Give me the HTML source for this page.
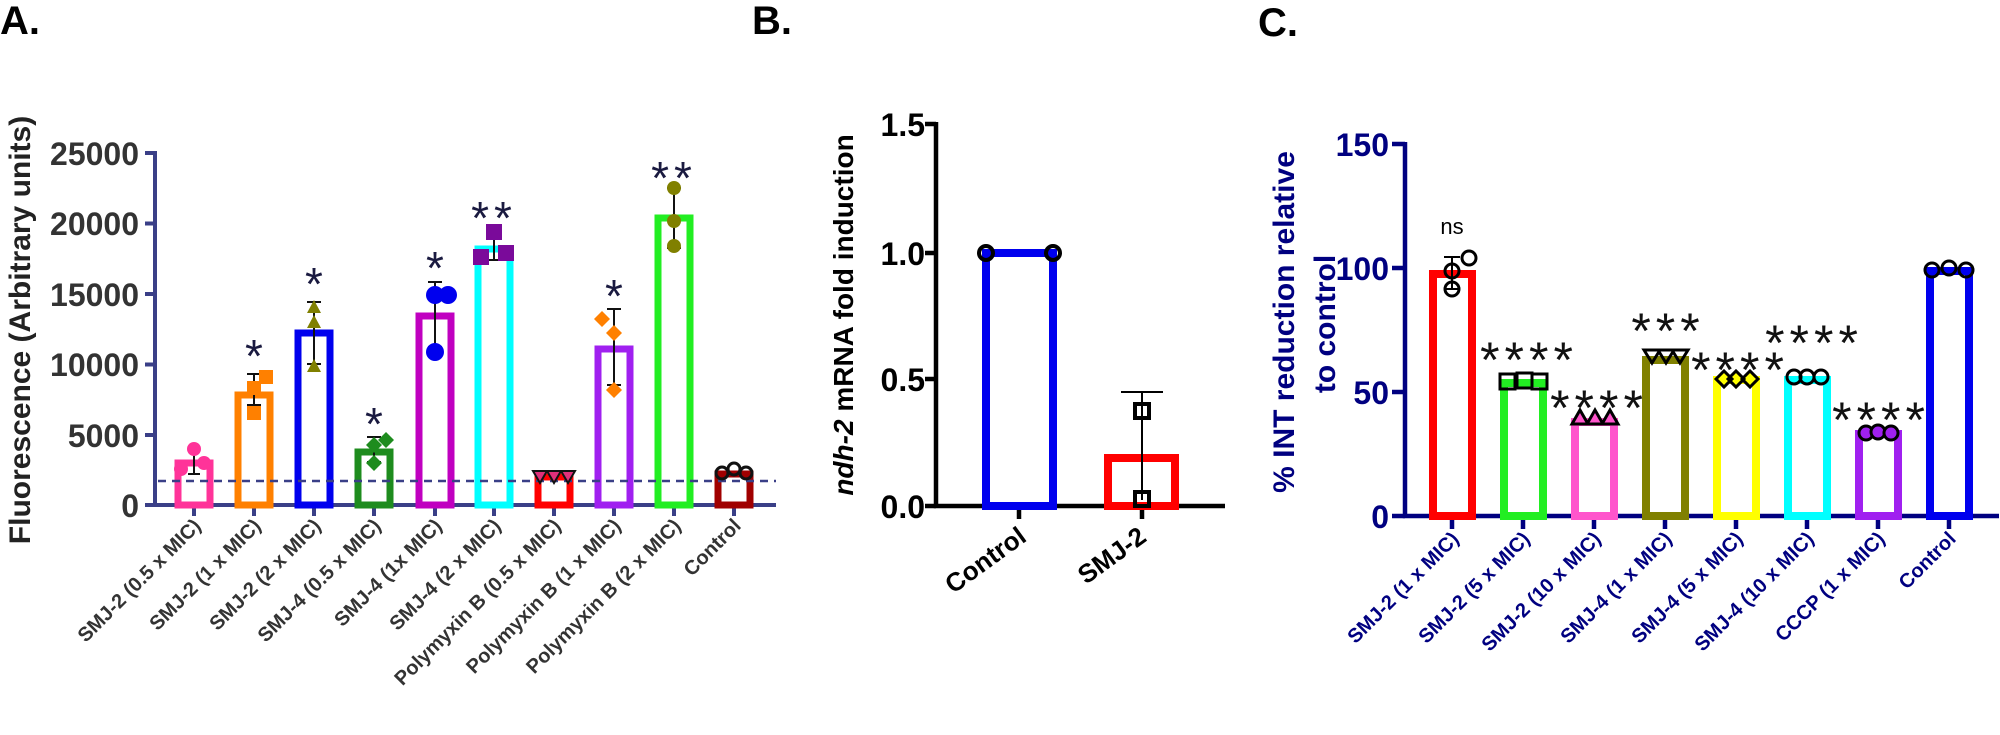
<!DOCTYPE html><html><head><style>body{margin:0;background:#fff}svg{display:block}text{font-family:"Liberation Sans",Arial,sans-serif;font-weight:bold}text.st{font-weight:normal}</style></head><body>
<svg width="2000" height="735" viewBox="0 0 2000 735">
<!-- Panel A -->
<text x="0" y="34" font-size="40">A.</text>
<g stroke="#3a3f87" stroke-width="4" fill="none"><path d="M155 151V505H776"/>
<path d="M145 153H155M145 223.5H155M145 294H155M145 364.5H155M145 435H155M145 505H155"/>
<path d="M194 505V516M254 505V516M314 505V516M374 505V516M435 505V516M494 505V516M554 505V516M614 505V516M674 505V516M734 505V516"/></g>
<g font-size="32" fill="#333" text-anchor="end"><text x="139" y="165">25000</text><text x="139" y="235">20000</text><text x="139" y="306">15000</text><text x="139" y="376">10000</text><text x="139" y="447">5000</text><text x="139" y="517">0</text></g>
<text transform="translate(30,330) rotate(-90)" font-size="30" fill="#222" text-anchor="middle">Fluorescence (Arbitrary units)</text>
<g fill="none" stroke-width="7">
<rect x="178" y="463" width="32" height="42" stroke="#ff3399"/>
<rect x="238" y="395" width="32" height="110" stroke="#ff8000"/>
<rect x="298" y="333" width="32" height="172" stroke="#0000ee"/>
<rect x="358" y="452" width="32" height="53" stroke="#1e8c1e"/>
<rect x="419" y="316" width="32" height="189" stroke="#c000c0"/>
<rect x="478" y="249" width="32" height="256" stroke="#00ffff"/>
<rect x="538" y="477" width="32" height="28" stroke="#ff0000"/>
<rect x="598" y="349" width="32" height="156" stroke="#a020f0"/>
<rect x="658" y="218" width="32" height="287" stroke="#22ee22"/>
<rect x="718" y="474" width="32" height="31" stroke="#a00000"/>
</g>
<line x1="158" y1="481" x2="776" y2="481" stroke="#3a3f87" stroke-width="2.5" stroke-dasharray="8,6"/>
<g stroke="#111" stroke-width="2">
<path d="M194 450V474M188 450H200M188 474H200 M254 374V405M247 374H261M247 405H261 M314 302V364M307 302H321M307 364H321 M374 437V462M367 437H381M367 462H381 M435 282V347M428 282H442M428 347H442 M494 233V260M487 233H501M487 260H501 M614 309V385M607 309H621M607 385H621 M674 188V248M667 188H681M667 248H681"/></g>
<g fill="#ff3399"><circle cx="194" cy="449" r="7"/><circle cx="181" cy="469" r="7"/><circle cx="204" cy="463" r="7"/></g>
<g fill="#ff8000"><rect x="247" y="406" width="14" height="14"/><rect x="247" y="381" width="14" height="14"/><rect x="259" y="370" width="14" height="14"/></g>
<g fill="#808000"><path d="M314 300l7 13h-14z M314 315l7 13h-14z M314 359l7 13h-14z"/></g>
<g fill="#1e8c1e"><path d="M374 437l8 8-8 8-8-8z M386 432l8 8-8 8-8-8z M374 455l8 8-8 8-8-8z"/></g>
<g fill="#0000ee"><circle cx="435" cy="295" r="9"/><circle cx="448" cy="295" r="9"/><circle cx="435" cy="352" r="9"/></g>
<g fill="#7a0a9a"><rect x="486" y="224" width="16" height="16"/><rect x="473" y="249" width="16" height="16"/><rect x="498" y="245" width="16" height="16"/></g>
<g fill="#e0307a" stroke="#111" stroke-width="2"><path d="M533 471h14l-7 12z M547 471h14l-7 12z M561 471h14l-7 12z"/></g>
<g fill="#ff8000"><path d="M602 311l8 8-8 8-8-8z M614 325l8 8-8 8-8-8z M614 382l8 8-8 8-8-8z"/></g>
<g fill="#808000"><circle cx="674" cy="188" r="7"/><circle cx="674" cy="221" r="7"/><circle cx="674" cy="246" r="7"/></g>
<g fill="none" stroke="#111" stroke-width="3"><circle cx="722" cy="473" r="6"/><circle cx="734" cy="469" r="6"/><circle cx="746" cy="473" r="6"/></g>
<g font-size="46" fill="#1a1a40" text-anchor="middle">
<text class="st" x="254" y="372">*</text><text class="st" x="314" y="300">*</text><text class="st" x="374" y="440">*</text><text class="st" x="435" y="284">*</text><text class="st" x="494" y="234" letter-spacing="5">**</text><text class="st" x="614" y="312">*</text><text class="st" x="674" y="194" letter-spacing="5">**</text></g>
<g font-size="20" fill="#333" text-anchor="end">
<text transform="translate(202,527) rotate(-45)">SMJ-2 (0.5 x MIC)</text>
<text transform="translate(262,527) rotate(-45)">SMJ-2 (1 x MIC)</text>
<text transform="translate(322,527) rotate(-45)">SMJ-2 (2 x MIC)</text>
<text transform="translate(382,527) rotate(-45)">SMJ-4 (0.5 x MIC)</text>
<text transform="translate(443,527) rotate(-45)">SMJ-4 (1x MIC)</text>
<text transform="translate(502,527) rotate(-45)">SMJ-4 (2 x MIC)</text>
<text transform="translate(562,527) rotate(-45)">Polymyxin B (0.5 x MIC)</text>
<text transform="translate(622,527) rotate(-45)">Polymyxin B (1 x MIC)</text>
<text transform="translate(682,527) rotate(-45)">Polymyxin B (2 x MIC)</text>
<text transform="translate(742,527) rotate(-45)">Control</text></g>
<!-- Panel B -->
<text x="752" y="34" font-size="40">B.</text>
<g stroke="#000" stroke-width="4.5" fill="none"><path d="M936 122V506H1225"/>
<path d="M925 124H936M925 253H936M925 379H936M925 506H936M1019 506V519M1142 506V519"/></g>
<g font-size="32" text-anchor="end"><text x="925" y="136">1.5</text><text x="925" y="265">1.0</text><text x="925" y="391">0.5</text><text x="925" y="518">0.0</text></g>
<text transform="translate(853,315) rotate(-90)" font-size="28" text-anchor="middle"><tspan font-style="italic">ndh-2</tspan> mRNA fold induction</text>
<rect x="986" y="253" width="67" height="253" fill="none" stroke="#0000ee" stroke-width="8"/>
<rect x="1108" y="458" width="67" height="48" fill="none" stroke="#ff0000" stroke-width="8"/>
<path d="M1142 392V500M1121 392H1163" stroke="#000" stroke-width="2"/>
<g fill="none" stroke="#000" stroke-width="4"><circle cx="986" cy="253" r="7"/><circle cx="1053" cy="253" r="7"/><rect x="1135" y="404" width="14" height="14"/><rect x="1135" y="492" width="14" height="14"/></g>
<g font-size="26" text-anchor="end"><text transform="translate(1028,540) rotate(-36)">Control</text><text transform="translate(1148,540) rotate(-36)">SMJ-2</text></g>
<!-- Panel C -->
<text x="1258" y="36" font-size="40">C.</text>
<g stroke="#000080" stroke-width="4.5" fill="none"><path d="M1405 142V516H1999"/>
<path d="M1392 144H1405M1392 268H1405M1392 392H1405M1392 516H1405"/>
<path d="M1452 516V529M1523 516V529M1594 516V529M1665 516V529M1736 516V529M1807 516V529M1878 516V529M1949 516V529"/></g>
<g font-size="32" fill="#000080" text-anchor="end"><text x="1389" y="156">150</text><text x="1389" y="280">100</text><text x="1389" y="404">50</text><text x="1389" y="528">0</text></g>
<g font-size="30" fill="#000080" text-anchor="middle"><text transform="translate(1294,322) rotate(-90)">% INT reduction relative</text><text transform="translate(1335,324) rotate(-90)">to control</text></g>
<g fill="none" stroke-width="8">
<rect x="1433" y="274" width="39" height="242" stroke="#ff0000"/>
<rect x="1504" y="383" width="39" height="133" stroke="#22ee22"/>
<rect x="1575" y="422" width="39" height="94" stroke="#ff55cc"/>
<rect x="1646" y="360" width="39" height="156" stroke="#808000"/>
<rect x="1717" y="380" width="39" height="136" stroke="#ffff00"/>
<rect x="1788" y="380" width="39" height="136" stroke="#00ffff"/>
<rect x="1859" y="434" width="39" height="82" stroke="#a020f0"/>
<rect x="1930" y="271" width="39" height="245" stroke="#0000ee"/>
</g>
<g fill="none" stroke="#000" stroke-width="3">
<path d="M1452 257V289M1444 257H1460M1444 289H1460" stroke-width="2"/>
<circle cx="1452" cy="271" r="7"/><circle cx="1452" cy="289" r="7"/><circle cx="1469" cy="258" r="7"/>
<rect x="1500" y="374" width="15" height="15"/><rect x="1517" y="373" width="15" height="15"/><rect x="1532" y="374" width="15" height="15"/>
<path d="M1572 424l8-14 8 14z M1587 424l8-14 8 14z M1602 424l8-14 8 14z" fill="#ff55cc"/>
<path d="M1644 350l8 13 8-13z M1658 350l8 13 8-13z M1672 350l8 13 8-13z"/>
<path d="M1716 379l8-8 8 8-8 8z M1728 379l8-8 8 8-8 8z M1742 379l8-8 8 8-8 8z" fill="#ffff00"/>
<circle cx="1794" cy="377" r="7"/><circle cx="1807" cy="377" r="7"/><circle cx="1821" cy="377" r="7"/>
<circle cx="1866" cy="433" r="7" fill="#a020f0"/><circle cx="1878" cy="432" r="7" fill="#a020f0"/><circle cx="1891" cy="433" r="7" fill="#a020f0"/>
<circle cx="1932" cy="270" r="7"/><circle cx="1949" cy="268" r="7"/><circle cx="1966" cy="270" r="7"/>
</g>
<text class="st" x="1452" y="234" font-size="22" text-anchor="middle">ns</text>
<g font-size="50" fill="#111" text-anchor="middle" letter-spacing="5">
<text class="st" x="1529" y="377">****</text>
<text class="st" x="1599" y="425">****</text>
<text class="st" x="1668" y="348">***</text>
<text class="st" x="1740" y="387">****</text>
<text class="st" x="1814" y="360">****</text>
<text class="st" x="1881" y="437">****</text></g>
<g font-size="20" fill="#000080" text-anchor="end">
<text transform="translate(1460,540) rotate(-45)">SMJ-2 (1 x MIC)</text>
<text transform="translate(1531,540) rotate(-45)">SMJ-2 (5 x MIC)</text>
<text transform="translate(1602,540) rotate(-45)">SMJ-2 (10 x MIC)</text>
<text transform="translate(1673,540) rotate(-45)">SMJ-4 (1 x MIC)</text>
<text transform="translate(1744,540) rotate(-45)">SMJ-4 (5 x MIC)</text>
<text transform="translate(1815,540) rotate(-45)">SMJ-4 (10 x MIC)</text>
<text transform="translate(1886,540) rotate(-45)">CCCP (1 x MIC)</text>
<text transform="translate(1957,540) rotate(-45)">Control</text></g>
</svg></body></html>
